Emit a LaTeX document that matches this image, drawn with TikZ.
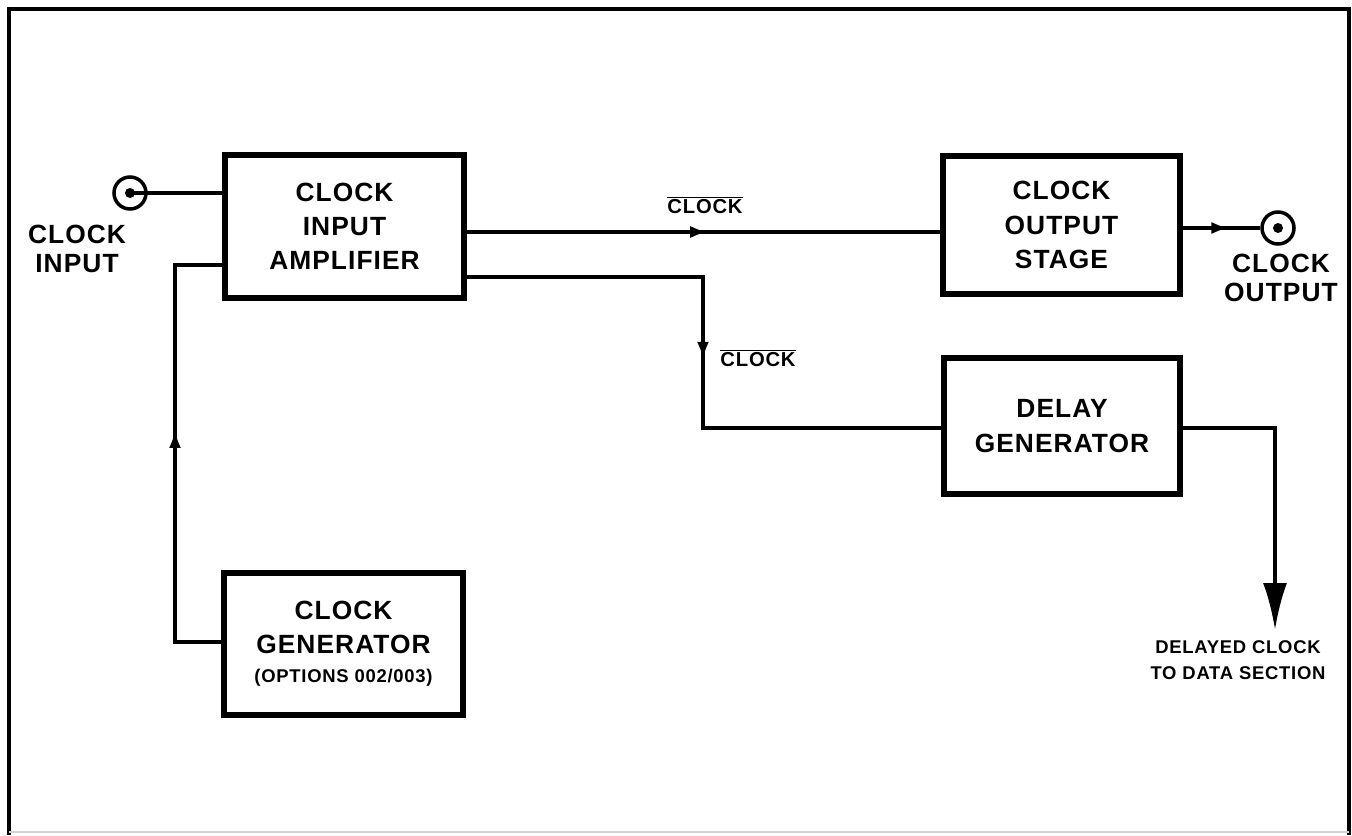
\documentclass[tikz,border=0pt]{standalone}
\usepackage{fontspec}
\setmainfont{Liberation Sans}[LetterSpace=4]
\usetikzlibrary{arrows.meta,decorations.markings}
\newcommand{\clockBar}{$\overline{\mbox{CLOCK}}$}

\begin{document}
\begin{tikzpicture}[
    x=0.02cm, y=-0.02cm,
    blockBox/.style={draw, line width=3.6pt, align=center, inner sep=0pt,
        font=\bfseries\fontsize{15}{19.5}\selectfont},
    wire/.style={line width=2.2pt},
    sigLabel/.style={inner sep=0pt, font=\bfseries\fontsize{11.5}{14}\selectfont},
    portLabel/.style={align=center, inner sep=0pt, font=\bfseries\fontsize{15}{16.5}\selectfont},
    jackRing/.style={circle, draw, line width=2pt, minimum size=0.64cm, inner sep=0pt},
    jackDot/.style={circle, fill, minimum size=0.2cm, inner sep=0pt},
    midArrow/.style={postaction={decorate}, decoration={markings,
        mark=at position #1 with {\arrow{Latex[length=0.36cm,width=0.24cm]}}}},
]
\useasboundingbox (0,0) rectangle (1352,835);

% frame
\draw[line width=1.8pt] (9,835) -- (9,9) -- (1349,9) -- (1349,835);
\draw[gray!35, line width=1pt] (9,832) -- (1349,832);

% blocks
\node[blockBox, minimum width=4.78cm, minimum height=2.86cm] (amp) at (344.5,226.5) {CLOCK\\INPUT\\AMPLIFIER};
\node[blockBox, minimum width=4.78cm, minimum height=2.84cm] (gen) at (343.5,644) {CLOCK\\GENERATOR\\[-3pt]{\fontsize{10.5}{12}\selectfont (OPTIONS 002/003)}};
\node[blockBox, minimum width=4.74cm, minimum height=2.76cm] (outStage) at (1061.5,225) {CLOCK\\OUTPUT\\STAGE};
\node[blockBox, minimum width=4.72cm, minimum height=2.72cm] (delay) at (1062,426) {DELAY\\GENERATOR};

% jacks
\node[jackRing] (inJack) at (130,193) {};
\node[jackDot] (inDot) at (130,193) {};
\node[jackRing] (outJack) at (1278,228) {};
\node[jackDot] (outDot) at (1278,228) {};

% labels
\node[portLabel] (inLabel) at (77,249) {CLOCK\\INPUT};
\node[portLabel] (outLabel) at (1281,278) {CLOCK\\OUTPUT};
\node[sigLabel] (clkTop) at (705,205) {\clockBar};
\node[sigLabel] (clkMid) at (758,358) {\clockBar};
\node[sigLabel, align=center, font=\bfseries\fontsize{10.5}{14.5}\selectfont] (dataLabel) at (1238,660) {DELAYED CLOCK\\TO DATA SECTION};

% connections
\coordinate (genBend) at (175,642);
\coordinate (ampBend) at (175,265);
\coordinate (splitTop) at (703,277);
\coordinate (splitLow) at (703,428);
\coordinate (delayBend) at (1275,428);
\coordinate (dataOut) at (1275,630);

\draw[wire] (inDot.center) -- (amp.west |- inDot.center);
\draw[wire, midArrow=0.549] (gen.west |- genBend) -- (genBend) -- (ampBend) -- (amp.west |- ampBend);
\draw[wire, midArrow=0.51] (amp.east |- 0,232) -- (outStage.west |- 0,232);
\draw[wire, midArrow=0.51] (amp.east |- splitTop) -- (splitTop) -- (splitLow) -- (delay.west |- splitLow);
\draw[wire, midArrow=0.6] (outStage.east |- outJack) -- (outJack.west);
\draw[wire, -{Latex[length=0.94cm,width=0.48cm]}] (delay.east |- delayBend) -- (delayBend) -- (dataOut);
\end{tikzpicture}
\end{document}
